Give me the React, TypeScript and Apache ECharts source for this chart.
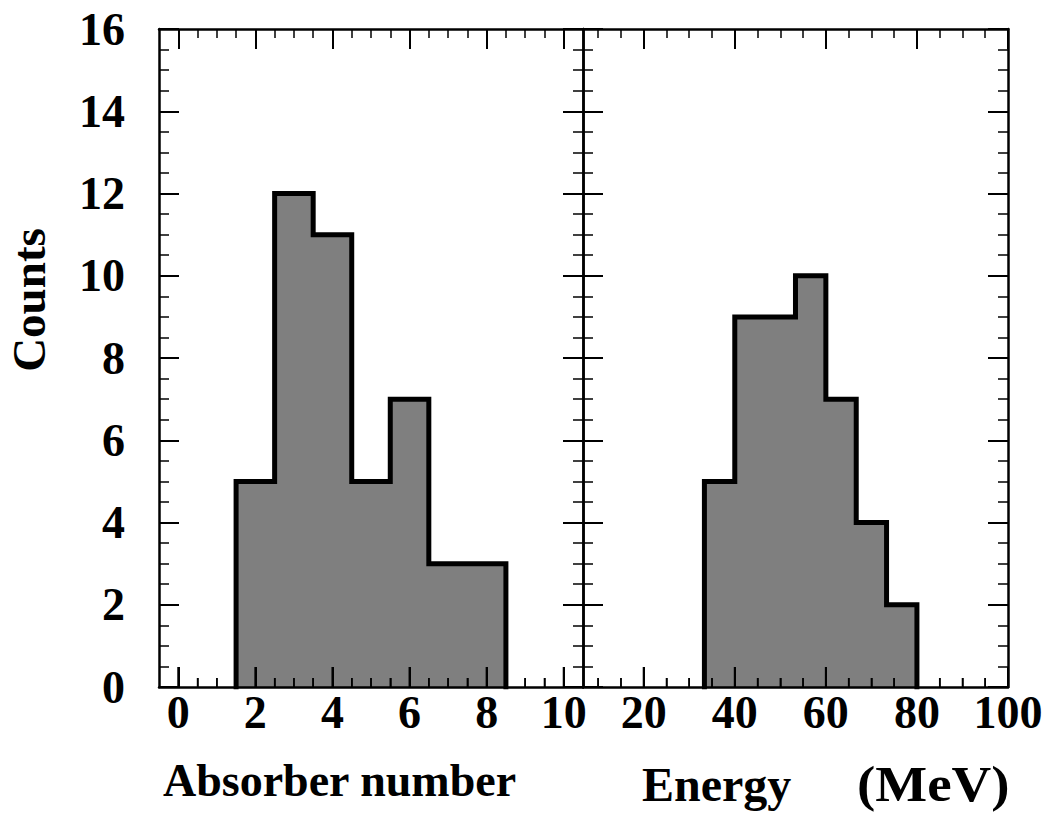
import React, { useEffect, useRef } from "react";
import * as echarts from "echarts";

// ---- data ----
const countTicks = [0, 2, 4, 6, 8, 10, 12, 14, 16];
const absorberRange = [-0.5, 10.5];
const absorberMajor = [0, 2, 4, 6, 8, 10];
const absorberMinor = [0.5, 1, 1.5, 2.5, 3, 3.5, 4.5, 5, 5.5, 6.5, 7, 7.5, 8.5, 9, 9.5];
const absorberEdges = [1.5, 2.5, 3.5, 4.5, 5.5, 6.5, 7.5, 8.5];
const absorberCounts = [5, 12, 11, 5, 7, 3, 3];

const energyRange = [6.667, 100];
const energyMajor = [20, 40, 60, 80, 100];
const energyMinor = [10, 15, 25, 30, 35, 45, 50, 55, 65, 70, 75, 85, 90, 95];
const energyEdges = [33.33, 40, 46.67, 53.33, 60, 66.67, 73.33, 80];
const energyCounts = [5, 9, 9, 10, 7, 4, 2];

const FONT = "'Liberation Serif', 'DejaVu Serif', serif";
const MAJOR_LEN = 20;
const MINOR_LEN = 9;

function stepPoints(edges: number[], counts: number[]) {
  const pts: number[][] = [[edges[0], 0]];
  for (let i = 0; i < counts.length; i++) pts.push([edges[i + 1], counts[i]]);
  pts.push([edges[edges.length - 1], 0]);
  return pts;
}

function xAxesFor(gridIndex: number, range: number[], major: number[], minor: number[]) {
  const base = {
    type: "value",
    gridIndex,
    min: range[0],
    max: range[1],
    z: 10,
    splitLine: { show: false },
  };
  const line = { show: true, onZero: false, lineStyle: { color: "#000", width: 2.5 } };
  const noLine = { show: false, onZero: false };
  return [
    {
      ...base,
      position: "bottom",
      axisLine: line,
      axisTick: { show: true, inside: true, length: MAJOR_LEN, customValues: major, lineStyle: { color: "#000", width: 2 } },
      axisLabel: {
        show: true,
        customValues: major,
        margin: 2,
        color: "#000",
        fontFamily: FONT,
        fontWeight: "bold",
        fontSize: 46,
      },
    },
    {
      ...base,
      position: "bottom",
      axisLine: noLine,
      axisTick: { show: true, inside: true, length: MINOR_LEN, customValues: minor, lineStyle: { color: "#000", width: 1.5 } },
      axisLabel: { show: false },
    },
    {
      ...base,
      position: "top",
      axisLine: line,
      axisTick: { show: true, inside: true, length: MAJOR_LEN, customValues: major, lineStyle: { color: "#000", width: 2 } },
      axisLabel: { show: false },
    },
    {
      ...base,
      position: "top",
      axisLine: noLine,
      axisTick: { show: true, inside: true, length: MINOR_LEN, customValues: minor, lineStyle: { color: "#000", width: 1.5 } },
      axisLabel: { show: false },
    },
  ];
}

function yAxisFor(gridIndex: number, position: string, labels: boolean) {
  return {
    type: "value",
    gridIndex,
    position,
    min: countTicks[0],
    max: countTicks[countTicks.length - 1],
    interval: countTicks[1] - countTicks[0],
    z: 10,
    splitLine: { show: false },
    axisLine: { show: true, onZero: false, lineStyle: { color: "#000", width: 2.5 } },
    axisTick: { show: true, inside: true, length: MAJOR_LEN, lineStyle: { color: "#000", width: 2 } },
    minorTick: { show: true, splitNumber: 4, length: 10, lineStyle: { color: "#000", width: 1.5 } },
    axisLabel: labels
      ? { show: true, margin: 34, color: "#000", fontFamily: FONT, fontWeight: "bold", fontSize: 46 }
      : { show: false },
  };
}

function histSeries(xAxisIndex: number, yAxisIndex: number, edges: number[], counts: number[]) {
  return {
    type: "line",
    xAxisIndex,
    yAxisIndex,
    step: "start",
    symbol: "none",
    z: 1,
    data: stepPoints(edges, counts),
    lineStyle: { color: "#000", width: 5, join: "miter", cap: "square" },
    areaStyle: { color: "#7f7f7f", opacity: 1 },
  };
}

// bottom ticks drawn above the filled histogram (they show through the fill in the original)
function tickOverlay(xAxisIndex: number, yAxisIndex: number, major: number[], minor: number[]) {
  const data = [...major.map((v) => [v, MAJOR_LEN]), ...minor.map((v) => [v, MINOR_LEN])];
  return {
    type: "custom",
    xAxisIndex,
    yAxisIndex,
    z: 20,
    silent: true,
    clip: false,
    data,
    encode: { x: 0 },
    renderItem: (_params: any, api: any) => {
      const v = api.value(0);
      const len = api.value(1);
      const p = api.coord([v, countTicks[0]]);
      return {
        type: "line",
        shape: { x1: p[0], y1: p[1], x2: p[0], y2: p[1] - len },
        style: { stroke: "#000", lineWidth: len > 15 ? 2 : 1.5 },
      };
    },
  };
}

export default function App() {
  const ref = useRef<HTMLDivElement>(null);
  useEffect(() => {
    if (!ref.current) return;
    const chart = echarts.init(ref.current, undefined, { renderer: "svg" });
    const option: any = {
      animation: false,
      backgroundColor: "#fff",
      grid: [
        { left: 159, top: 29, width: 424, height: 658, containLabel: false },
        { left: 583, top: 29, width: 425, height: 658, containLabel: false },
      ],
      xAxis: [
        ...xAxesFor(0, absorberRange, absorberMajor, absorberMinor),
        ...xAxesFor(1, energyRange, energyMajor, energyMinor),
      ],
      yAxis: [yAxisFor(0, "left", true), yAxisFor(0, "right", false), yAxisFor(1, "left", false), yAxisFor(1, "right", false)],
      series: [
        histSeries(0, 0, absorberEdges, absorberCounts),
        histSeries(4, 2, energyEdges, energyCounts),
        tickOverlay(0, 0, absorberMajor, absorberMinor),
        tickOverlay(4, 2, energyMajor, energyMinor),
      ],
      graphic: [
        {
          type: "text",
          left: 163,
          top: 757,
          style: { text: "Absorber number", fill: "#000", font: `bold 46px ${FONT}` },
        },
        {
          type: "text",
          left: 642,
          top: 760,
          style: { text: "Energy", fill: "#000", font: `bold 48px ${FONT}` },
        },
        {
          type: "text",
          x: 857,
          y: 759,
          scaleX: 1.1,
          style: { text: "(MeV)", fill: "#000", font: `bold 50px ${FONT}`, textVerticalAlign: "top" },
        },
        {
          type: "text",
          x: 29,
          y: 300,
          rotation: Math.PI / 2,
          style: {
            text: "Counts",
            fill: "#000",
            font: `bold 47px ${FONT}`,
            textAlign: "center",
            textVerticalAlign: "middle",
          },
        },
      ],
    };
    chart.setOption(option);
    return () => chart.dispose();
  }, []);
  return <div ref={ref} style={{ position: "absolute", left: 0, top: 0, width: 1047, height: 827 }} />;
}
